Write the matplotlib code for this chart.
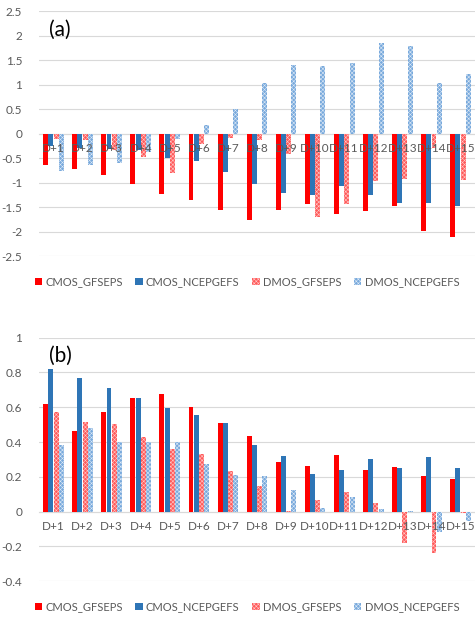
import matplotlib.pyplot as plt
import numpy as np

plt.rcParams['font.family'] = ['Lato', 'DejaVu Sans']

days = ['D+%d' % i for i in range(1, 16)]
series = ['CMOS_GFSEPS', 'CMOS_NCEPGEFS', 'DMOS_GFSEPS', 'DMOS_NCEPGEFS']

# panel (a)
a_cmos_gfs = [-0.63, -0.72, -0.85, -1.02, -1.23, -1.35, -1.55, -1.77, -1.55, -1.44,
              -1.63, -1.57, -1.48, -1.98, -2.11]
a_cmos_ncep = [-0.25, -0.29, -0.31, -0.33, -0.49, -0.56, -0.78, -1.02, -1.21, -1.26,
               -1.06, -1.25, -1.42, -1.42, -1.48]
a_dmos_gfs = [-0.10, -0.12, -0.33, -0.48, -0.81, -0.22, -0.08, -0.12, -0.41, -1.69,
              -1.44, -0.97, -0.93, -0.29, -0.95]
a_dmos_ncep = [-0.76, -0.63, -0.60, -0.37, -0.10, 0.18, 0.51, 1.04, 1.41, 1.38,
               1.44, 1.85, 1.78, 1.03, 1.22]

# panel (b)
b_cmos_gfs = [0.617, 0.462, 0.571, 0.655, 0.676, 0.60, 0.508, 0.433, 0.284, 0.264,
              0.324, 0.241, 0.257, 0.207, 0.188]
b_cmos_ncep = [0.82, 0.768, 0.709, 0.651, 0.596, 0.557, 0.511, 0.381, 0.32, 0.215,
               0.241, 0.305, 0.253, 0.312, 0.249]
b_dmos_gfs = [0.575, 0.513, 0.506, 0.429, 0.36, 0.331, 0.232, 0.146, 0.004, 0.069,
              0.111, 0.048, -0.18, -0.24, -0.01]
b_dmos_ncep = [0.383, 0.481, 0.402, 0.402, 0.398, 0.274, 0.213, 0.203, 0.123, 0.021,
               0.084, 0.015, 0.003, -0.115, -0.054]

styles = [
    dict(color='#ff0000'),
    dict(color='#2e75b6'),
    dict(facecolor='#ff5a5a', edgecolor='#ffc8c8', hatch='xxxxxxxx', linewidth=0),
    dict(facecolor='#78a9dc', edgecolor='#dde9f6', hatch='xxxxxxxx', linewidth=0),
]

grey = '#595959'
plt.rcParams['hatch.linewidth'] = 0.4

fig = plt.figure(figsize=(4.75, 6.19), dpi=100)
ax1 = fig.add_axes([0.082, 0.586, 0.918, 0.396])
ax2 = fig.add_axes([0.082, 0.061, 0.918, 0.3935])

x = np.arange(len(days))
w = 0.17
step = 0.18


def draw(ax, data, ylim, ticks, label):
    handles = []
    for k, vals in enumerate(data):
        h = ax.bar(x + (k - 1.5) * step, vals, w, label=series[k], zorder=3, **styles[k])
        handles.append(h)
    ax.set_xlim(-0.5, len(days) - 0.5)
    ax.set_ylim(*ylim)
    ax.set_yticks(ticks)
    ax.set_yticklabels(['%g' % t for t in ticks])
    ax.set_xticks(x)
    ax.set_xticklabels(days)
    ax.grid(axis='y', color='#d9d9d9', linewidth=0.8, zorder=0)
    for s in ['top', 'right', 'left']:
        ax.spines[s].set_visible(False)
    ax.spines['bottom'].set_position(('data', 0))
    ax.spines['bottom'].set_color('#d9d9d9')
    ax.spines['bottom'].set_zorder(2)
    ax.tick_params(axis='both', length=0, colors=grey, labelsize=8.5)
    ax.tick_params(axis='y', pad=12)
    ax.tick_params(axis='x', pad=7)
    ax.xaxis.set_zorder(5)
    ax.text(0.022, 0.965, label, transform=ax.transAxes, fontsize=15, va='top')
    return handles


h = draw(ax1, [a_cmos_gfs, a_cmos_ncep, a_dmos_gfs, a_dmos_ncep], (-2.5, 2.5),
         np.arange(-2.5, 2.51, 0.5), '(a)')
draw(ax2, [b_cmos_gfs, b_cmos_ncep, b_dmos_gfs, b_dmos_ncep], (-0.4, 1.0),
     [-0.4, -0.2, 0, 0.2, 0.4, 0.6, 0.8, 1.0], '(b)')

for y in [0.545, 0.02]:
    leg = fig.legend(h, series, loc='center', bbox_to_anchor=(0.52, y), ncol=4,
                     frameon=False, fontsize=8, handlelength=0.65, handleheight=0.65,
                     handletextpad=0.3, columnspacing=1.15, labelcolor=grey)

fig.savefig('out.png', dpi=100)
